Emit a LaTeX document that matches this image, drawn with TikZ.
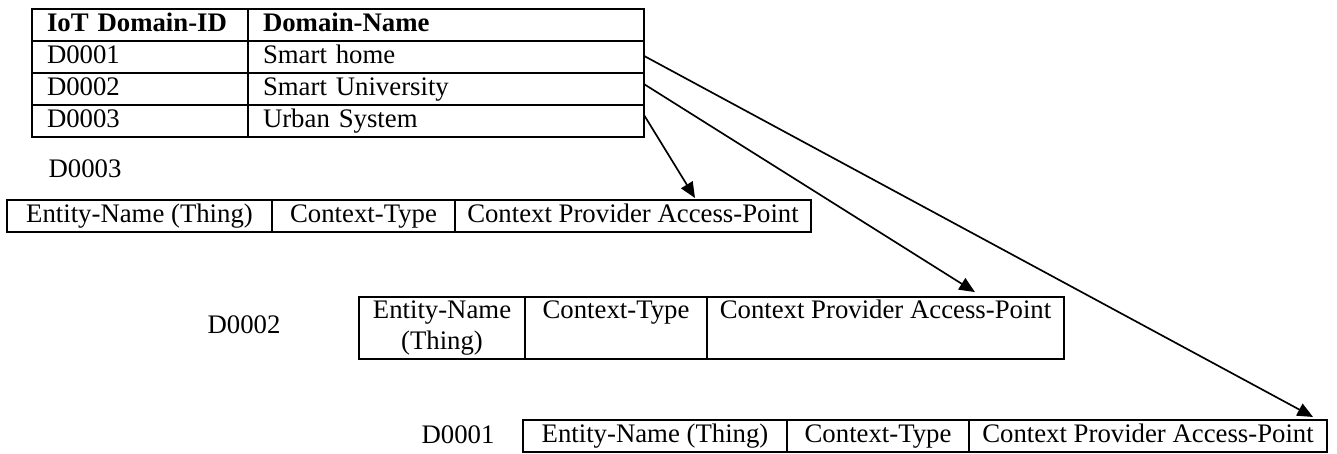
\documentclass[tikz,border=0pt]{standalone}
\usepackage{fontspec}
\setmainfont{Liberation Serif}
\usetikzlibrary{arrows.meta}
\begin{document}
\begin{tikzpicture}[x=0.44843pt,y=-0.44843pt,
  font=\fontsize{12}{13.8}\selectfont,
  cell/.style={draw, line width=0.9pt, inner sep=0pt, outer sep=0pt, anchor=north west, minimum height=14.35pt},
  one/.style={execute at begin node=\strut},
  colA/.style={cell, one, align=left, inner xsep=6.73pt, text width=83.40pt},
  colB/.style={cell, one, align=left, inner xsep=6.73pt, text width=164.12pt},
  hdr/.style={font=\fontsize{12}{13.8}\selectfont\bfseries},
  ccell/.style={cell, one, align=center},
  tall/.style={cell, align=center, minimum height=27.8pt},
  lbl/.style={inner sep=0pt},
  link/.style={line width=0.75pt, -{Triangle[length=7pt,width=6pt]}}]
\useasboundingbox (0,0) rectangle (1337,454);
% domain table
\node[colA, hdr] (t01) at (32,9) {IoT Domain-ID};
\node[colB, hdr] (t02) at (t01.north east) {Domain-Name};
\node[colA] (t11) at (t01.south west) {D0001};
\node[colB] (t12) at (t11.north east) {Smart home};
\node[colA] (t21) at (t11.south west) {D0002};
\node[colB] (t22) at (t21.north east) {Smart University};
\node[colA] (t31) at (t21.south west) {D0003};
\node[colB] (t32) at (t31.north east) {Urban System};
% D0003 table
\node[lbl] (l3) at (85,169) {D0003};
\node[ccell, minimum width=118.83pt] (c31) at (7,200) {Entity-Name (Thing)};
\node[ccell, minimum width=82.06pt] (c32) at (c31.north east) {Context-Type};
\node[ccell, minimum width=159.64pt] (c33) at (c32.north east) {Context Provider Access-Point};
% D0002 table
\node[lbl] (l2) at (244,325) {D0002};
\node[tall, minimum width=74.44pt] (c21) at (359,297) {\strut Entity-Name\\\strut(Thing)};
\node[tall, minimum width=81.61pt] (c22) at (c21.north east) {\strut Context-Type\\\strut};
\node[tall, minimum width=160.09pt] (c23) at (c22.north east) {\strut Context Provider Access-Point\\\strut};
% D0001 table
\node[lbl] (l1) at (458,435) {D0001};
\node[ccell, minimum width=118.39pt] (c11) at (523,420) {Entity-Name (Thing)};
\node[ccell, minimum width=81.61pt] (c12) at (c11.north east) {Context-Type};
\node[ccell, minimum width=160.54pt] (c13) at (c12.north east) {Context Provider Access-Point};
% arrows
\draw[link] ([yshift=0.5pt]t12.east) -- ([xshift=74pt,yshift=1.35pt]c13.north);
\draw[link] ([yshift=2.2pt]t22.east) -- ([xshift=40.1pt,yshift=2.2pt]c23.north);
\draw[link] ([yshift=2.7pt]t32.east) -- ([xshift=27.8pt,yshift=0.9pt]c33.north);
\end{tikzpicture}
\end{document}
